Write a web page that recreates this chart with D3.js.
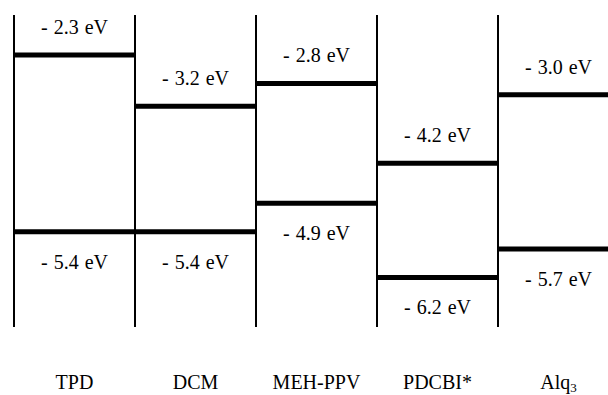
<!DOCTYPE html>
<html>
<head>
<meta charset="utf-8">
<script src="https://d3js.org/d3.v7.min.js"></script>
<style>
  body { margin: 0; background: #fff; }
</style>
</head>
<body>
<svg width="608" height="395"></svg>
<script>
  // materials, left to right
  var materials = ["TPD", "DCM", "MEH-PPV", "PDCBI*", "Alq3"];
  // LUMO / HOMO levels in eV
  var lumo = [-2.3, -3.2, -2.8, -4.2, -3.0];
  var homo = [-5.4, -5.4, -4.9, -6.2, -5.7];

  var serif = "'Liberation Serif', 'Times New Roman', serif";
  var svg = d3.select("svg");

  // one column per material, the last one runs past the right edge
  var xCol = d3.scaleBand().domain(materials).range([14, 619]).padding(0);
  var yEnergy = d3.scaleLinear().domain([-2, -6.5]).range([37.8, 294.6]);

  // column separators
  svg.append("g")
    .selectAll("line")
    .data(materials)
    .enter()
    .append("line")
    .attr("x1", function (d) { return xCol(d); })
    .attr("x2", function (d) { return xCol(d); })
    .attr("y1", 15)
    .attr("y2", 327)
    .style("stroke", "#000")
    .style("stroke-width", 2);

  function drawLevels(values, labelDy) {
    var g = svg.append("g");
    g.selectAll("line")
      .data(values)
      .enter()
      .append("line")
      .attr("x1", function (d, i) { return xCol(materials[i]); })
      .attr("x2", function (d, i) { return xCol(materials[i]) + xCol.bandwidth(); })
      .attr("y1", function (d) { return yEnergy(d); })
      .attr("y2", function (d) { return yEnergy(d); })
      .style("stroke", "#000")
      .style("stroke-width", 5);

    g.selectAll("text")
      .data(values)
      .enter()
      .append("text")
      .attr("x", function (d, i) { return xCol(materials[i]) + xCol.bandwidth() / 2; })
      .attr("y", function (d) { return yEnergy(d) + labelDy; })
      .attr("text-anchor", "middle")
      .style("font-family", serif)
      .style("font-size", "20px")
      .style("word-spacing", "1px")
      .text(function (d) { return "- " + Math.abs(d).toFixed(1) + " eV"; });
  }

  drawLevels(lumo, -21);
  drawLevels(homo, 37);

  // material names along the bottom
  var names = svg.append("g")
    .selectAll("text")
    .data(materials)
    .enter()
    .append("text")
    .attr("x", function (d) { return xCol(d) + xCol.bandwidth() / 2; })
    .attr("y", 389)
    .attr("text-anchor", "middle")
    .style("font-family", serif)
    .style("font-size", "20px");

  names.each(function (d) {
    var t = d3.select(this);
    if (d === "Alq3") {
      t.append("tspan").text("Alq");
      t.append("tspan").attr("dy", 3).style("font-size", "13px").text("3");
    } else {
      t.text(d);
    }
  });
</script>
</body>
</html>
